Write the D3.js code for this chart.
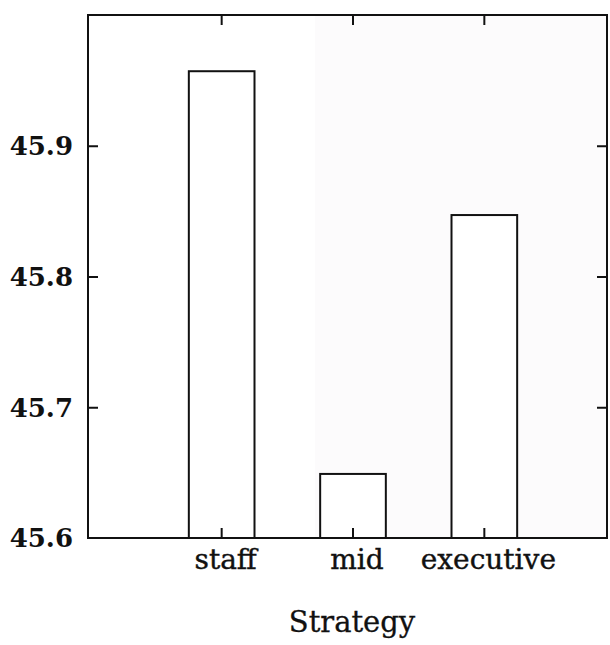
<!DOCTYPE html>
<html>
<head>
<meta charset="utf-8">
<script src="https://cdn.jsdelivr.net/npm/d3@7"></script>
<style>
  html, body { margin: 0; padding: 0; background: #fff; }
  svg { display: block; }
</style>
</head>
<body>
<svg id="chart" width="610" height="645"></svg>
<script>
// Mean score per strategy level
const categories = ["staff", "mid", "executive"];
const values = [45.957, 45.649, 45.847];
const yTicks = [45.6, 45.7, 45.8, 45.9];
const yTickLabels = ["45.6", "45.7", "45.8", "45.9"];
const xTitle = "Strategy";

const svg = d3.select("#chart");
const frame = { left: 88, right: 607, top: 15, bottom: 538 };
const font = "'DejaVu Serif', 'Liberation Serif', serif";

const y = d3.scaleLinear().domain([45.6, 46.0]).range([frame.bottom, frame.top]);
const x = d3.scaleBand()
  .domain(categories)
  .range([156, 550])
  .paddingInner(0.5)
  .paddingOuter(0.25);

// faint shading on the right part of the plotting area
svg.append("rect")
  .attr("x", 315).attr("y", frame.top)
  .attr("width", frame.right - 315).attr("height", frame.bottom - frame.top)
  .attr("fill", "#fcfbfc");

// bars
svg.append("g").selectAll("rect")
  .data(categories)
  .join("rect")
  .attr("x", d => x(d))
  .attr("y", (d, i) => y(values[i]))
  .attr("width", x.bandwidth())
  .attr("height", (d, i) => y(45.6) - y(values[i]))
  .attr("fill", "#fff")
  .attr("stroke", "#111")
  .attr("stroke-width", 2);

// inward ticks on all four sides
const tickLen = 10;
const axisLeftIn = d3.axisRight(y).tickValues(yTicks.slice(1)).tickSize(tickLen).tickFormat("");
const axisRightIn = d3.axisLeft(y).tickValues(yTicks.slice(1)).tickSize(tickLen).tickFormat("");
const axisBottomIn = d3.axisTop(x).tickSize(tickLen).tickFormat("");
const axisTopIn = d3.axisBottom(x).tickSize(tickLen).tickFormat("");

function styleAxis(g) {
  g.select(".domain").remove();
  g.selectAll(".tick line").attr("stroke", "#111").attr("stroke-width", 2);
}
svg.append("g").attr("transform", `translate(${frame.left},0)`).call(axisLeftIn).call(styleAxis);
svg.append("g").attr("transform", `translate(${frame.right},0)`).call(axisRightIn).call(styleAxis);
svg.append("g").attr("transform", `translate(0,${frame.bottom})`).call(axisBottomIn).call(styleAxis);
svg.append("g").attr("transform", `translate(0,${frame.top})`).call(axisTopIn).call(styleAxis);

// frame
svg.append("rect")
  .attr("x", frame.left).attr("y", frame.top)
  .attr("width", frame.right - frame.left).attr("height", frame.bottom - frame.top)
  .attr("fill", "none").attr("stroke", "#111").attr("stroke-width", 2);

// y tick labels
svg.append("g").selectAll("text")
  .data(yTicks)
  .join("text")
  .attr("x", 73)
  .attr("y", d => y(d))
  .attr("dy", "0.36em")
  .attr("text-anchor", "end")
  .attr("font-family", font)
  .attr("font-weight", "bold")
  .attr("font-size", 26)
  .attr("fill", "#111")
  .text((d, i) => yTickLabels[i]);

// category labels
svg.append("g").selectAll("text")
  .data(categories)
  .join("text")
  .attr("x", d => x(d) + x.bandwidth() / 2 + 4)
  .attr("y", 569)
  .attr("text-anchor", "middle")
  .attr("font-family", font)
  .attr("font-size", 28)
  .attr("fill", "#111")
  .attr("stroke", "#111")
  .attr("stroke-width", 0.4)
  .text(d => d);

// axis title
svg.append("text")
  .attr("x", 352)
  .attr("y", 632)
  .attr("text-anchor", "middle")
  .attr("font-family", font)
  .attr("font-size", 29)
  .attr("fill", "#111")
  .attr("stroke", "#111")
  .attr("stroke-width", 0.3)
  .text(xTitle);
</script>
</body>
</html>
